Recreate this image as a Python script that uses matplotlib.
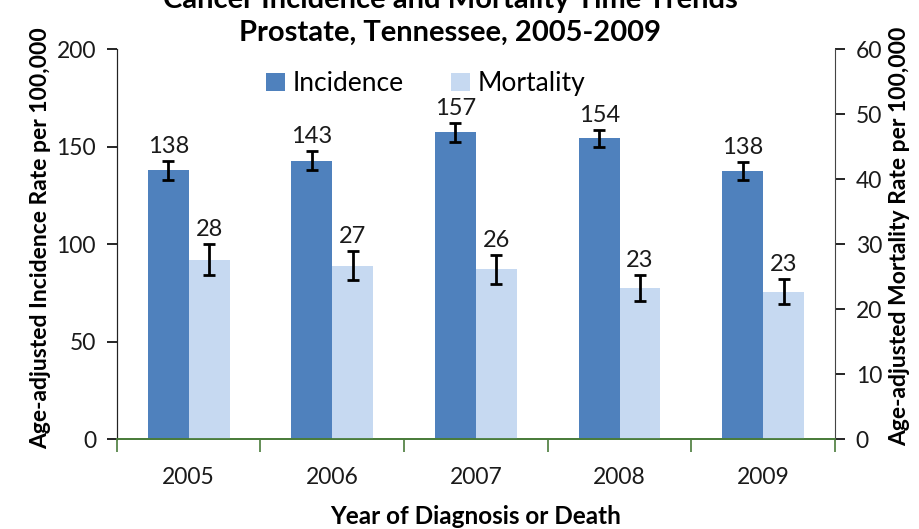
import matplotlib
matplotlib.use("Agg")
import matplotlib.pyplot as plt
import numpy as np

# data
years = ["2005", "2006", "2007", "2008", "2009"]
incidence = [137.8, 142.9, 157.3, 154.2, 137.6]
incidence_err = [4.7, 4.7, 4.8, 4.4, 4.5]
mortality = [27.6, 26.7, 26.1, 23.3, 22.7]
mortality_err = [2.4, 2.2, 2.2, 2.0, 1.9]

INC_COLOR = "#4F81BD"
MORT_COLOR = "#C6D9F1"
AXIS_GREEN = "#4A7C3B"

plt.rcParams["font.family"] = ["Lato", "DejaVu Sans"]

fig, ax = plt.subplots(figsize=(9.2, 5.29), dpi=100)
fig.subplots_adjust(left=0.127, right=0.9076, bottom=0.170, top=0.907)
ax2 = ax.twinx()

x = np.arange(len(years))
w = 0.285

b1 = ax.bar(x - w / 2, incidence, w, color=INC_COLOR, label="Incidence", zorder=2)
ax.errorbar(x - w / 2, incidence, yerr=incidence_err, fmt="none", ecolor="black",
            elinewidth=2, capsize=4.5, capthick=2, zorder=3)
b2 = ax2.bar(x + w / 2, mortality, w, color=MORT_COLOR, label="Mortality", zorder=2)
ax2.errorbar(x + w / 2, mortality, yerr=mortality_err, fmt="none", ecolor="black",
             elinewidth=2, capsize=4.5, capthick=2, zorder=3)

# value labels above error bars
for xi, v, e in zip(x, incidence, incidence_err):
    ax.annotate(f"{v:.0f}", (xi - w / 2, v + e), xytext=(0, 3), textcoords="offset points",
                ha="center", va="bottom", fontsize=17, color="#1a1a1a")
for xi, v, e in zip(x, mortality, mortality_err):
    ax2.annotate(f"{v:.0f}", (xi + w / 2, v + e), xytext=(0, 3), textcoords="offset points",
                 ha="center", va="bottom", fontsize=17, color="#1a1a1a")

ax.set_xlim(-0.5, len(years) - 0.5)
ax.set_ylim(0, 200)
ax2.set_ylim(0, 60)
ax.set_yticks(range(0, 201, 50))
ax2.set_yticks(range(0, 61, 10))

# category labels centred, tick marks between categories
ax.set_xticks(x)
ax.set_xticklabels(years)
ax.set_xticks(np.arange(-0.5, len(years), 1.0), minor=True)
ax.tick_params(axis="x", which="major", length=0, pad=20, labelsize=16.5, labelcolor="#1a1a1a")
ax.tick_params(axis="x", which="minor", length=9, width=1.2, color=AXIS_GREEN, direction="out")
ax.tick_params(axis="y", length=7, width=1.2, labelsize=16.5, labelcolor="#1a1a1a", pad=8)
ax2.tick_params(axis="y", length=7, width=1.2, labelsize=16.5, labelcolor="#1a1a1a", pad=8)

for a in (ax, ax2):
    a.spines["top"].set_visible(False)
    a.spines["bottom"].set_color(AXIS_GREEN)
    a.spines["bottom"].set_linewidth(1.3)
    a.spines["left"].set_color("#222222")
    a.spines["right"].set_color("#444444")
ax.spines["right"].set_visible(False)

ax.set_ylabel("Age-adjusted Incidence Rate per 100,000", fontsize=16.5, fontweight="bold", labelpad=4)
ax2.set_ylabel("Age-adjusted Mortality Rate per 100,000", fontsize=16.5, fontweight="bold",
               rotation=90, labelpad=5)
ax.yaxis.label.set_y(0.515)
ax2.yaxis.label.set_y(0.52)
ax.set_xlabel("Year of Diagnosis or Death", fontsize=17.5, fontweight="bold", labelpad=12)

fig.text(0.489, 1.0, "Cancer Incidence and Mortality Time Trends", ha="center", va="center",
         fontsize=21, fontweight="bold")
fig.text(0.489, 0.937, "Prostate, Tennessee, 2005-2009", ha="center", va="center",
         fontsize=21, fontweight="bold")

ax.legend([b1, b2], ["Incidence", "Mortality"], loc="upper center", bbox_to_anchor=(0.43, 1.005),
          ncol=2, frameon=False, fontsize=19, handlelength=0.7, handleheight=0.7,
          handletextpad=0.3, columnspacing=1.8)

fig.savefig("out.png", dpi=100)
